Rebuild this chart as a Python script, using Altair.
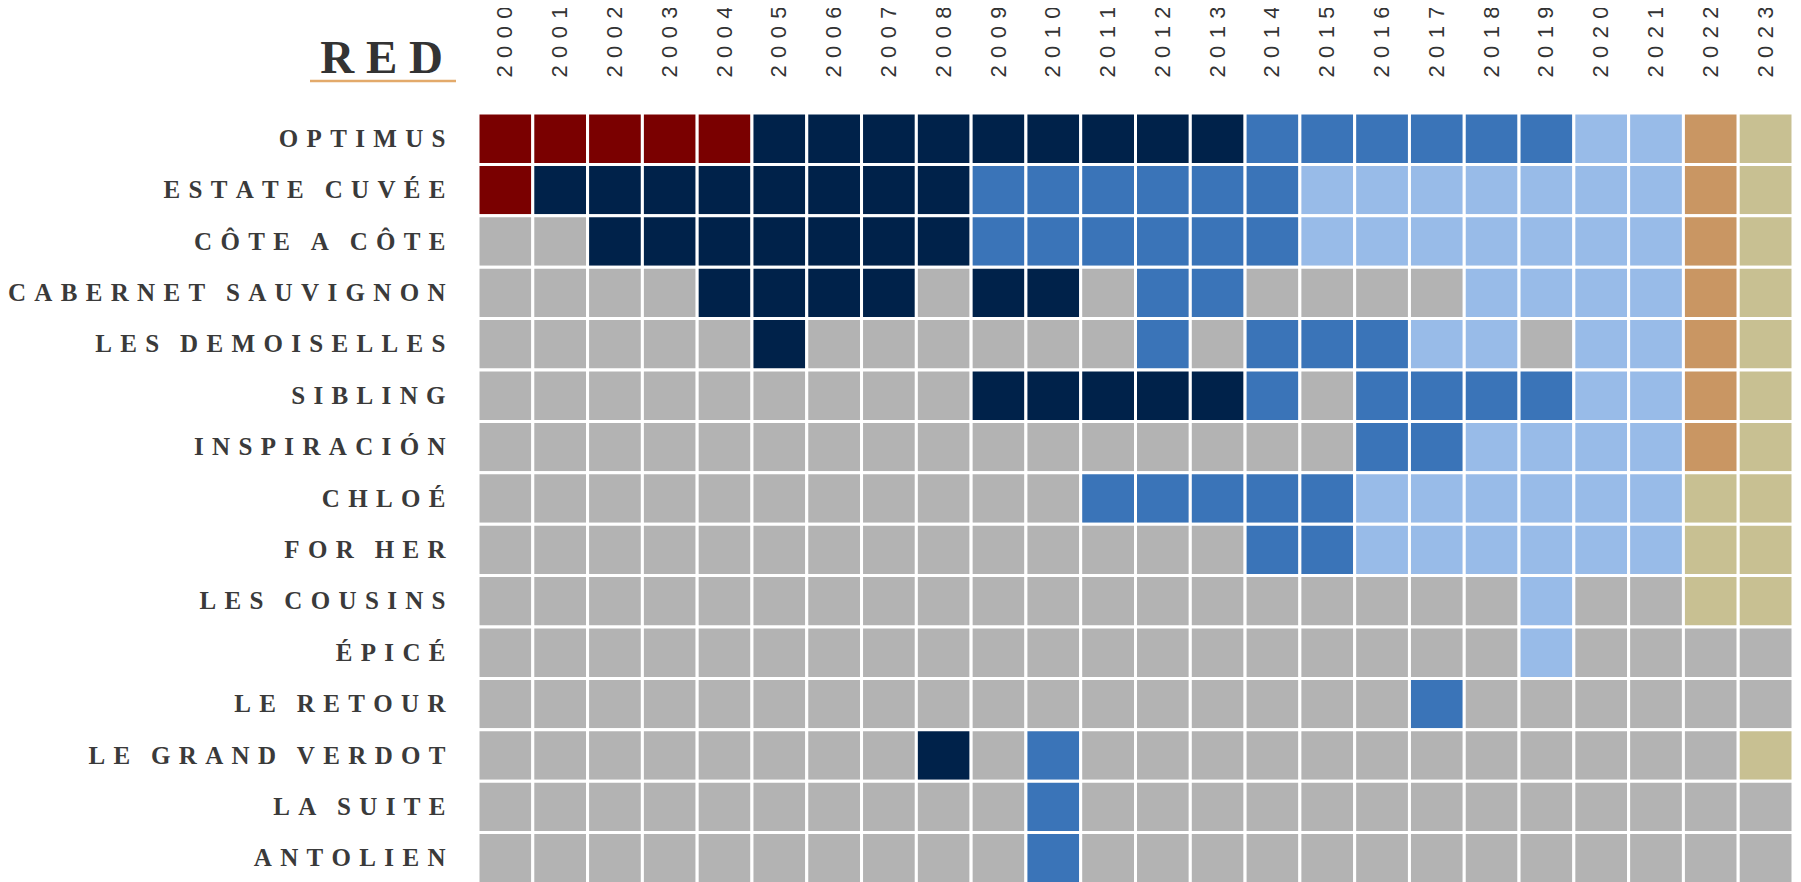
import altair as alt
import pandas as pd

TITLE = "RED"

YEARS = [2000, 2001, 2002, 2003, 2004, 2005, 2006, 2007, 2008, 2009, 2010, 2011,
         2012, 2013, 2014, 2015, 2016, 2017, 2018, 2019, 2020, 2021, 2022, 2023]

WINES = ["OPTIMUS", "ESTATE CUVÉE", "CÔTE A CÔTE", "CABERNET SAUVIGNON",
         "LES DEMOISELLES", "SIBLING", "INSPIRACIÓN", "CHLOÉ", "FOR HER",
         "LES COUSINS", "ÉPICÉ", "LE RETOUR", "LE GRAND VERDOT", "LA SUITE",
         "ANTOLIEN"]

# one status code per year (2000..2023) for each wine
STATUS = [
    "RRRRRNNNNNNNNNBBBBBBLLOK",  # OPTIMUS
    "RNNNNNNNNBBBBBBLLLLLLLOK",  # ESTATE CUVÉE
    "GGNNNNNNNBBBBBBLLLLLLLOK",  # CÔTE A CÔTE
    "GGGGNNNNGNNGBBGGGGLLLLOK",  # CABERNET SAUVIGNON
    "GGGGGNGGGGGGBGBBBLLGLLOK",  # LES DEMOISELLES
    "GGGGGGGGGNNNNNBGBBBBLLOK",  # SIBLING
    "GGGGGGGGGGGGGGGGBBLLLLOK",  # INSPIRACIÓN
    "GGGGGGGGGGGBBBBBLLLLLLKK",  # CHLOÉ
    "GGGGGGGGGGGGGGBBLLLLLLKK",  # FOR HER
    "GGGGGGGGGGGGGGGGGGGLGGKK",  # LES COUSINS
    "GGGGGGGGGGGGGGGGGGGLGGGG",  # ÉPICÉ
    "GGGGGGGGGGGGGGGGGBGGGGGG",  # LE RETOUR
    "GGGGGGGGNGBGGGGGGGGGGGGK",  # LE GRAND VERDOT
    "GGGGGGGGGGBGGGGGGGGGGGGG",  # LA SUITE
    "GGGGGGGGGGBGGGGGGGGGGGGG",  # ANTOLIEN
]

CODES = ["R", "N", "B", "L", "O", "K", "G"]
COLORS = ["#7A0000", "#00224A", "#3A74B8", "#98BBE8", "#C99663", "#C8C092", "#B3B3B3"]

rows = []
for wine, codes in zip(WINES, STATUS):
    for year, c in zip(YEARS, codes):
        rows.append({"wine": wine, "year": year, "status": c})
df = pd.DataFrame(rows)

W = 1315
H = 771

ylab = ("replace(join(split(datum.label, ''), '\u2004'), "
        "regexp('\u2004 \u2004', 'g'), '\u2004\u2004\u2006')")
xlab = "join(split(datum.label, ''), '\u2004')"

heat = alt.Chart(df).mark_rect(stroke="white", strokeWidth=3).encode(
    x=alt.X("year:O", sort=YEARS, title=None,
            axis=alt.Axis(orient="top", labelAngle=270, labelAlign="left",
                          labelBaseline="middle", labelPadding=36,
                          labelFont="Liberation Sans", labelFontSize=22,
                          labelColor="#333333", labelLimit=500,
                          labelOverlap=False, ticks=False, domain=False,
                          labelExpr=xlab)),
    y=alt.Y("wine:N", sort=WINES, title=None,
            axis=alt.Axis(labelPadding=33, labelFont="Liberation Serif",
                          labelFontWeight="bold", labelFontSize=25,
                          labelColor="#3a3a3a", labelLimit=800,
                          labelOverlap=False, ticks=False, domain=False,
                          labelExpr=ylab)),
    color=alt.Color("status:N", scale=alt.Scale(domain=CODES, range=COLORS),
                    legend=None),
)

tdf = pd.DataFrame({"t": [TITLE]})
title = alt.Chart(tdf).transform_calculate(
    s="join(split(datum.t, ''), ' ')"
).mark_text(font="Liberation Serif", fontWeight="bold", fontSize=47,
            color="#333333", align="right", baseline="alphabetic").encode(
    text="s:N", x=alt.value(-35), y=alt.value(-40)
)

underline = alt.Chart(tdf).mark_rule(color="#E3AA6B", strokeWidth=2.5).encode(
    x=alt.value(-168), x2=alt.value(-22), y=alt.value(-32)
)

chart = alt.layer(heat, title, underline).properties(
    width=W, height=H,
    autosize=alt.AutoSizeParams(type="none"),
    padding={"left": 470, "top": 105, "right": 0, "bottom": 0},
).configure_view(stroke=None)

chart.save("out.html", embed_options={"renderer": "svg", "actions": False})
